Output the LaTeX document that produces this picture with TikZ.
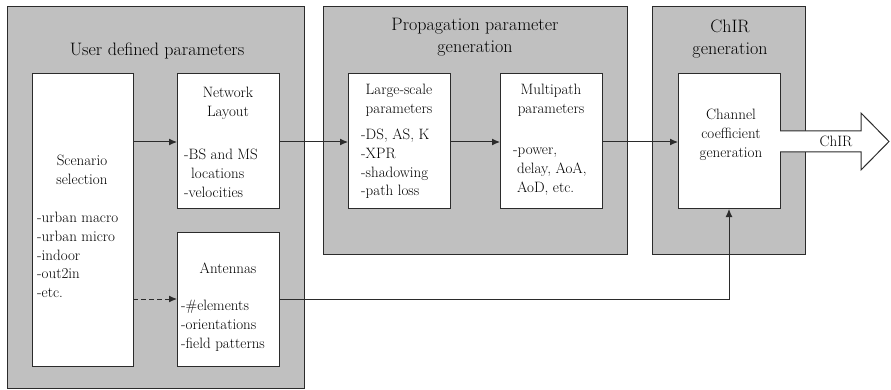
\documentclass[tikz,border=0pt]{standalone}
\usetikzlibrary{arrows.meta}
\definecolor{panelgray}{HTML}{C0C0C0}
\definecolor{edge}{HTML}{2B2B2B}
\begin{document}
\begin{tikzpicture}[x=1pt,y=-1pt,
  panel/.style={draw=edge, fill=panelgray, line width=1pt, anchor=north west, inner sep=0pt, outer sep=0pt},
  block/.style={draw=edge, fill=white, line width=1pt, anchor=north west, inner sep=0pt, outer sep=0pt},
  body/.style={inner sep=0pt, anchor=north, align=center, font=\fontsize{15}{18.7}\selectfont, execute at begin node=\strut},
  bodylist/.style={body, anchor=north west, align=left},
  heading/.style={inner sep=0pt, anchor=north, align=center, font=\fontsize{18}{22}\selectfont, execute at begin node=\strut},
  flow/.style={draw=edge, line width=1pt, -{Latex[length=8pt,width=7pt]}},
  hint/.style={flow, dash pattern=on 5pt off 3pt}]
\useasboundingbox (0,0) rectangle (891,390);

% panels
\node[panel, minimum width=297pt, minimum height=381pt] (user) at (7,7) {};
\node[panel, minimum width=304pt, minimum height=247pt] (prop) at (323,7) {};
\node[panel, minimum width=153pt, minimum height=247pt] (chir) at (652,7) {};

% inner blocks
\node[block, minimum width=101pt, minimum height=292pt] (scen) at (32,74) {};
\node[block, minimum width=102pt, minimum height=135pt] (net) at (177,74) {};
\node[block, minimum width=102pt, minimum height=134pt] (ant) at (177,232) {};
\node[block, minimum width=102pt, minimum height=135pt] (large) at (348,74) {};
\node[block, minimum width=102pt, minimum height=135pt] (multi) at (500,74) {};
\node[block, minimum width=102pt, minimum height=135pt] (chan) at (678,74) {};

% headings
\node[heading] (ttlUser) at (157,39.6) {User defined parameters};
\node[heading] (ttlProp) at (475,17.6) {Propagation parameter\\generation};
\node[heading] (ttlChir) at (730,19.6) {ChIR\\generation};

% block texts
\node[body] (scenTxt) at (82,155) {Scenario\\selection};
\node[bodylist] (scenList) at (37,212) {-urban macro\\-urban micro\\-indoor\\-out2in\\-etc.};
\node[body] (netTxt) at (228,87) {Network\\Layout};
\node[bodylist] (netList) at (184,149) {-BS and MS\\\hspace*{7pt}locations\\-velocities};
\node[body] (antTxt) at (228,260) {Antennas};
\node[bodylist] (antList) at (181,300) {-\#elements\\-orientations\\-field patterns};
\node[body] (largeTxt) at (399,84) {Large-scale\\parameters};
\node[bodylist] (largeList) at (361,129) {-DS, AS, K\\-XPR\\-shadowing\\-path loss};
\node[body] (multiTxt) at (551,84) {Multipath\\parameters};
\node[bodylist] (multiList) at (513,148) {-power,\\\hspace*{4pt}delay, AoA,\\\hspace*{4pt}AoD, etc.};
\node[body] (chanTxt) at (731,109) {Channel\\coefficient\\generation};

% connector levels
\coordinate (main) at (0,142);
\coordinate (low) at (0,299);

\draw[flow] (scen.east |- main) -- (net.west |- main);
\draw[flow] (net.east |- main) -- (large.west |- main);
\draw[flow] (large.east |- main) -- (multi.west |- main);
\draw[flow] (multi.east |- main) -- (chan.west |- main);
\draw[hint] (scen.east |- low) -- (ant.west |- low);
\draw[flow] (ant.east |- low) -| (chan.south);

% output arrow
\draw[draw=edge, fill=white, line width=1pt]
  (780,131) -- (861,131) -- (861,113) -- (889,141.5) -- (861,170) -- (861,152) -- (780,152);
\node[inner sep=0pt, anchor=base, font=\fontsize{15}{18.7}\selectfont] (out) at (836,147) {ChIR};
\end{tikzpicture}
\end{document}
